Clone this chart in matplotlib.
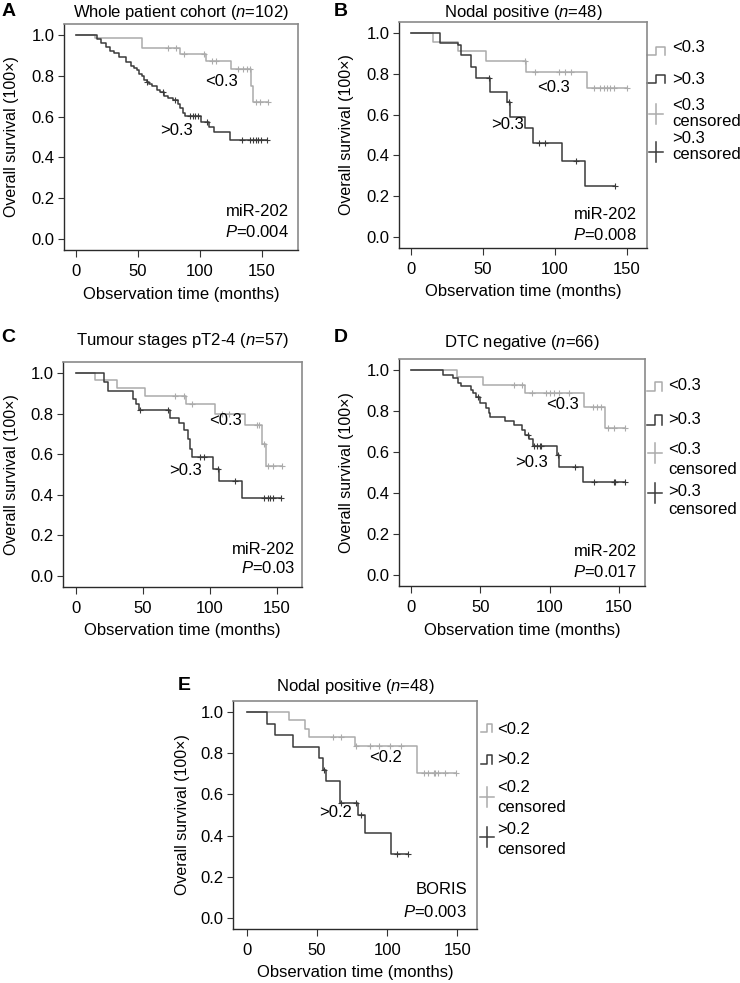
import numpy as np
import matplotlib
matplotlib.use("Agg")
import matplotlib.pyplot as plt

plt.rcParams['font.family'] = ['Liberation Sans', 'DejaVu Sans']
plt.rcParams['mathtext.fontset'] = 'custom'
plt.rcParams['mathtext.rm'] = 'Liberation Sans'
plt.rcParams['mathtext.it'] = 'Liberation Sans:italic'

# ---- survival curves (months, survival fraction) ----
# A: whole patient cohort
a_low_t = [15, 53, 84, 105, 125, 141, 143]
a_low_s = [0.985, 0.935, 0.907, 0.874, 0.833, 0.75, 0.67]
a_low_c = [74, 81, 87, 103, 110, 113, 131, 135, 138, 140, 145, 148, 155]
a_high_t = [17, 20, 24, 27, 31, 35, 40, 44, 47, 49, 51, 53, 55, 57, 59, 61, 65, 68,
            71, 74, 78, 82, 84, 86, 88, 101, 107, 111, 124]
a_high_s = [0.98, 0.96, 0.94, 0.92, 0.91, 0.89, 0.87, 0.85, 0.84, 0.83, 0.81, 0.80,
            0.78, 0.77, 0.76, 0.75, 0.73, 0.72, 0.70, 0.69, 0.68, 0.66, 0.64, 0.62,
            0.604, 0.572, 0.548, 0.523, 0.485]
a_high_c = [57, 70, 80, 92, 94, 96, 98, 106, 134, 140, 143, 145, 147, 149, 154]

# B: nodal positive
b_low_t = [15, 33, 52, 80, 122]
b_low_s = [0.957, 0.912, 0.864, 0.81, 0.728]
b_low_c = [79, 86, 103, 107, 111, 127, 131, 134, 136, 138, 141, 150]
b_high_t = [20, 33, 35, 42, 45, 55, 67, 69, 79, 85, 105, 121]
b_high_s = [0.952, 0.94, 0.89, 0.834, 0.777, 0.712, 0.663, 0.59, 0.533, 0.46, 0.371, 0.249]
b_high_c = [54, 68, 89, 93, 115, 142]

# C: tumour stages pT2-4
c_low_t = [14, 31, 52, 82, 104, 126, 139, 142]
c_low_s = [0.967, 0.926, 0.889, 0.848, 0.796, 0.742, 0.649, 0.543]
c_low_c = [74, 81, 87, 109, 114, 135, 137, 140, 143, 147, 154]
c_high_t = [21, 24, 43, 45, 47, 70, 77, 81, 84, 85, 87, 102, 107, 124]
c_high_s = [0.955, 0.91, 0.87, 0.845, 0.82, 0.78, 0.755, 0.72, 0.675, 0.625, 0.585,
            0.526, 0.469, 0.383]
c_high_c = [48, 69, 93, 96, 106, 119, 140, 143, 145, 147, 153]

# D: DTC negative
d_low_t = [33, 52, 82, 125, 140]
d_low_s = [0.966, 0.927, 0.89, 0.82, 0.717]
d_low_c = [74, 80, 87, 97, 100, 103, 107, 114, 131, 134, 137, 142, 146, 154]
d_high_t = [23, 30, 34, 36, 43, 45, 47, 50, 54, 56, 57, 68, 74, 80, 82, 85, 88, 105, 107, 124]
d_high_s = [0.976, 0.96, 0.938, 0.922, 0.903, 0.887, 0.867, 0.838, 0.814, 0.79, 0.77,
            0.749, 0.733, 0.709, 0.684, 0.665, 0.631, 0.583, 0.526, 0.453]
d_high_c = [48, 84, 89, 91, 93, 94, 106, 118, 132, 146, 147, 154]

# E: nodal positive, BORIS
e_low_t = [30, 41, 44, 77, 121]
e_low_s = [0.961, 0.916, 0.88, 0.835, 0.705]
e_low_c = [61, 67, 78, 88, 94, 102, 110, 126, 129, 133, 134, 136, 141, 149]
e_high_t = [14, 20, 33, 51, 54, 56, 66, 79, 84, 103]
e_high_s = [0.94, 0.887, 0.831, 0.778, 0.721, 0.665, 0.556, 0.502, 0.413, 0.311]
e_high_c = [55, 67, 78, 81, 107, 115]

titles = ["Whole patient cohort ($\\mathit{n}$=102)", "Nodal positive ($\\mathit{n}$=48)",
          "Tumour stages pT2-4 ($\\mathit{n}$=57)", "DTC negative ($\\mathit{n}$=66)",
          "Nodal positive ($\\mathit{n}$=48)"]
letters = ["A", "B", "C", "D", "E"]
markers = ["miR-202", "miR-202", "miR-202", "miR-202", "BORIS"]
pvalues = ["0.004", "0.008", "0.03", "0.017", "0.003"]
cutoffs = ["0.3", "0.3", "0.3", "0.3", "0.2"]

# ---- layout (pixels in a 740x983 image) ----
W, H = 740, 983
LIGHT = '#ababab'
DARK = '#3a3a3a'
FS = 12

boxes = [(64, 24, 298, 250), (399, 22, 647, 248), (63, 362, 302, 587),
         (399, 359, 645, 586), (233, 701, 477, 929)]
xlims = [(-9.7, 179), (-8.3, 164), (-9.5, 168.7), (-8.7, 168.7), (-10, 164)]
title_y = [12, 12, 341, 342, 686]
letter_xy = [(9, 11), (341, 11), (8, 337), (341, 337), (184, 685)]
ylabel_x = [12, 347, 12, 347, 182]
lab_pos = [((117.5, 0.771), (81, 0.534)), ((98.8, 0.735), (66.9, 0.551)),
           ((111.4, 0.765), (81.5, 0.52)), ((109, 0.833), (86.8, 0.55)),
           ((98.8, 0.778), (63.3, 0.51))]
note_pos = [(9, 38, 18), (10, 33, 13), (7, 37, 19), (8, 34, 14), (10, 39, 17)]
legends = {
    1: dict(ix=(0, 9, 18), tx=25, s1=(25, 33, 26), s2=(53, 61, 58), p1=(92, 84, 100), p2=(130, 117, 133)),
    3: dict(ix=(2, 10, 17), tx=23, s1=(23, 32, 26), s2=(56, 66, 60), p1=(94, 91, 110), p2=(134, 132, 151)),
    4: dict(ix=(4, 10, 15), tx=20, s1=(23, 31, 28), s2=(54, 63, 59), p1=(96, 86, 106), p2=(136, 129, 149)),
}

curves = [
    ((a_low_t, a_low_s, a_low_c), (a_high_t, a_high_s, a_high_c)),
    ((b_low_t, b_low_s, b_low_c), (b_high_t, b_high_s, b_high_c)),
    ((c_low_t, c_low_s, c_low_c), (c_high_t, c_high_s, c_high_c)),
    ((d_low_t, d_low_s, d_low_c), (d_high_t, d_high_s, d_high_c)),
    ((e_low_t, e_low_s, e_low_c), (e_high_t, e_high_s, e_high_c)),
]


def km_draw(ax, t, s, c, color):
    end = max(max(c), max(t))
    x = [0] + list(t) + [end]
    y = [1.0] + list(s) + [s[-1]]
    ax.step(x, y, where='post', color=color, lw=1.1)
    idx = np.searchsorted(t, c, side='right')
    cy = [1.0 if i == 0 else s[i - 1] for i in idx]
    ax.plot(c, cy, ls='none', marker='+', ms=4.5, mew=0.8, color=color)


def frac(box, px, py):
    x0, y0, x1, y1 = box
    return (px - x0) / (x1 - x0), (y1 - py) / (y1 - y0)


fig = plt.figure(figsize=(W / 100, H / 100), dpi=100)

for i in range(5):
    box = boxes[i]
    x0, y0, x1, y1 = box
    ax = fig.add_axes([x0 / W, 1 - y1 / H, (x1 - x0) / W, (y1 - y0) / H])
    (lt, ls_, lc), (ht, hs, hc) = curves[i]
    km_draw(ax, lt, ls_, lc, LIGHT)
    km_draw(ax, ht, hs, hc, DARK)

    ax.set_xlim(*xlims[i])
    ax.set_ylim(-0.054, 1.054)
    ax.set_xticks([0, 50, 100, 150])
    ax.set_yticks([0, 0.2, 0.4, 0.6, 0.8, 1.0])
    ax.set_yticklabels(["0.0", "0.2", "0.4", "0.6", "0.8", "1.0"])
    ax.tick_params(axis='x', direction='out', length=5, width=0.8, pad=5, labelsize=FS, color='#333333')
    ax.tick_params(axis='y', direction='out', length=4.5, width=0.8, pad=2.5, labelsize=FS, color='#333333')
    for side in ['top', 'right']:
        ax.spines[side].set_color('#8a8a8a')
        ax.spines[side].set_linewidth(1.2)
    for side in ['left', 'bottom']:
        ax.spines[side].set_color('#2a2a2a')
        ax.spines[side].set_linewidth(1.0)

    cut = cutoffs[i]
    (lx, ly), (hx, hy) = lab_pos[i]
    ax.text(lx, ly, "<" + cut, fontsize=FS, ha='center', va='center')
    ax.text(hx, hy, ">" + cut, fontsize=FS, ha='center', va='center')

    rx, m_up, p_up = note_pos[i]
    fx, fy = frac(box, x1 - rx, y1 - m_up)
    ax.text(fx, fy, markers[i], transform=ax.transAxes, fontsize=FS, ha='right', va='center')
    fx, fy = frac(box, x1 - rx, y1 - p_up)
    ax.text(fx, fy, "$\\mathit{P}$=" + pvalues[i], transform=ax.transAxes, fontsize=FS,
            ha='right', va='center')

    # titles, letters, axis labels
    cx = (x0 + x1) / 2
    fig.text(cx / W, 1 - title_y[i] / H, titles[i], fontsize=FS, ha='center', va='center')
    lxp, lyp = letter_xy[i]
    fig.text(lxp / W, 1 - lyp / H, letters[i], fontsize=14, fontweight='bold', ha='center', va='center')
    fig.text(ylabel_x[i] / W, 1 - (y0 + y1) / 2 / H, "Overall survival (100×)", fontsize=11.5,
             rotation=90, ha='center', va='center')
    fig.text(cx / W, 1 - (y1 + 44) / H, "Observation time (months)", fontsize=FS,
             ha='center', va='center')

    # legend outside right
    if i in legends:
        L = legends[i]
        a, b, c = L['ix']
        for (hi, lo, tdy), col, sign in [(L['s1'], LIGHT, "<"), (L['s2'], DARK, ">")]:
            xs = [x1 + a, x1 + b, x1 + b, x1 + c, x1 + c]
            ys = [y0 + lo, y0 + lo, y0 + hi, y0 + hi, y0 + lo]
            pts = [frac(box, px, py) for px, py in zip(xs, ys)]
            ax.plot([p[0] for p in pts], [p[1] for p in pts], color=col, lw=1.1,
                    transform=ax.transAxes, clip_on=False)
            fx, fy = frac(box, x1 + L['tx'], y0 + tdy)
            ax.text(fx, fy, sign + cut, transform=ax.transAxes, fontsize=FS, ha='left', va='center')
        for (pdy, t1, t2), col, sign in [(L['p1'], LIGHT, "<"), (L['p2'], DARK, ">")]:
            pc = x1 + (a + c) / 2
            h1 = frac(box, pc - 7, y0 + pdy)
            h2 = frac(box, pc + 7, y0 + pdy)
            v1 = frac(box, pc, y0 + pdy - 10)
            v2 = frac(box, pc, y0 + pdy + 10)
            ax.plot([h1[0], h2[0]], [h1[1], h2[1]], color=col, lw=1.1, transform=ax.transAxes, clip_on=False)
            ax.plot([v1[0], v2[0]], [v1[1], v2[1]], color=col, lw=1.1, transform=ax.transAxes, clip_on=False)
            fx, fy = frac(box, x1 + L['tx'], y0 + t1)
            ax.text(fx, fy, sign + cut, transform=ax.transAxes, fontsize=FS, ha='left', va='center')
            fx, fy = frac(box, x1 + L['tx'], y0 + t2)
            ax.text(fx, fy, "censored", transform=ax.transAxes, fontsize=FS, ha='left', va='center')

fig.savefig("out.png", dpi=100)
